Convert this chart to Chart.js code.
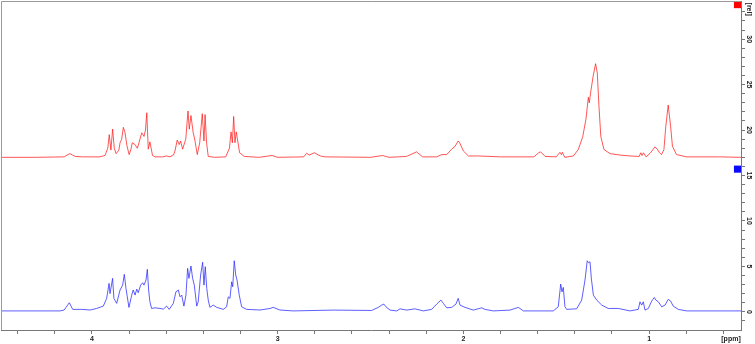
<!DOCTYPE html>
<html>
<head>
<meta charset="utf-8">
<script src="https://cdn.jsdelivr.net/npm/chart.js@4"></script>
<style>
  html, body { margin: 0; padding: 0; background: #fff; }
  canvas { display: block; }
</style>
</head>
<body>
<canvas id="nmr" width="755" height="344"></canvas>
<script>
'use strict'

// upper trace (red), shifted up by ~17
const redPpm = [4.49, 4.30, 4.15, 4.13, 4.118, 4.105, 4.09, 4.05, 3.96, 3.93, 3.915, 3.907, 3.898, 3.889, 3.88, 3.87,
  3.855, 3.849, 3.84, 3.831, 3.822, 3.812, 3.80, 3.79, 3.783, 3.768, 3.756, 3.747, 3.732, 3.72, 3.712, 3.705,
  3.697, 3.688, 3.674, 3.66, 3.62, 3.598, 3.58, 3.56, 3.553, 3.541, 3.53, 3.523, 3.512, 3.495, 3.483, 3.476,
  3.467, 3.455, 3.446, 3.433, 3.42, 3.406, 3.397, 3.391, 3.383, 3.374, 3.34, 3.28, 3.26, 3.251, 3.244, 3.237,
  3.23, 3.223, 3.205, 3.18, 3.10, 3.03, 3.00, 2.86, 2.844, 2.83, 2.803, 2.77, 2.745, 2.50, 2.435, 2.40,
  2.306, 2.252, 2.22, 2.144, 2.117, 2.09, 2.063, 2.045, 2.028, 2.02, 2.00, 1.973, 1.92, 1.80, 1.62, 1.595,
  1.584, 1.56, 1.50, 1.48, 1.472, 1.467, 1.454, 1.408, 1.381, 1.357, 1.34, 1.327, 1.322, 1.315, 1.301, 1.288,
  1.279, 1.27, 1.26, 1.243, 1.21, 1.157, 1.103, 1.053, 1.045, 1.038, 1.03, 1.016, 0.992, 0.968, 0.956, 0.945,
  0.933, 0.92, 0.91, 0.897, 0.884, 0.874, 0.852, 0.798, 0.62, 0.505];
const redRel = [17.0, 17.0, 17.05, 17.3, 17.4, 17.25, 17.1, 17.05, 17.05, 17.2, 18.0, 19.5, 17.8, 20.1, 18.0, 17.4,
  17.8, 18.6, 19.0, 20.3, 19.7, 18.3, 17.3, 17.9, 18.6, 18.4, 18.0, 18.6, 19.7, 19.3, 20.0, 21.9,
  17.9, 18.7, 17.2, 17.05, 17.05, 17.15, 17.05, 17.3, 17.7, 18.9, 18.4, 18.8, 17.9, 19.0, 22.1, 20.1,
  21.6, 19.7, 18.9, 17.3, 18.6, 21.8, 18.8, 21.7, 18.6, 17.1, 17.0, 17.05, 18.0, 19.8, 18.6, 21.5,
  18.6, 19.8, 17.5, 17.1, 17.0, 17.2, 17.0, 17.05, 17.45, 17.25, 17.5, 17.15, 17.05, 17.0, 17.2, 17.0,
  17.1, 17.6, 17.05, 17.05, 17.3, 17.3, 17.9, 18.2, 18.8, 18.6, 17.7, 17.15, 17.15, 17.05, 17.05, 17.5,
  17.6, 17.1, 17.05, 17.55, 17.3, 17.55, 17.0, 17.15, 17.86, 19.3, 21.2, 23.6, 23.0, 24.1, 25.95, 27.3,
  26.3, 22.65, 19.3, 17.86, 17.4, 17.25, 17.15, 17.1, 17.5, 17.2, 17.5, 17.05, 17.5, 18.15, 17.9, 17.55,
  17.3, 17.86, 20.4, 22.75, 20.4, 18.2, 17.3, 17.05, 17.05, 17.0];

// lower trace (blue)
const bluePpm = [4.49, 4.172, 4.15, 4.122, 4.104, 4.055, 4.01, 3.975, 3.939, 3.921, 3.908, 3.903, 3.889, 3.882, 3.867, 3.849,
  3.835, 3.826, 3.817, 3.801, 3.786, 3.778, 3.768, 3.759, 3.751, 3.738, 3.727, 3.72, 3.709, 3.702, 3.695, 3.688,
  3.679, 3.661, 3.634, 3.616, 3.598, 3.584, 3.562, 3.548, 3.535, 3.526, 3.517, 3.505, 3.494, 3.485, 3.478, 3.467,
  3.458, 3.449, 3.436, 3.428, 3.415, 3.404, 3.397, 3.39, 3.382, 3.374, 3.365, 3.347, 3.328, 3.293, 3.275, 3.266,
  3.257, 3.248, 3.242, 3.234, 3.226, 3.219, 3.207, 3.194, 3.167, 3.095, 3.041, 3.024, 2.988, 2.916, 2.70, 2.494,
  2.458, 2.44, 2.428, 2.417, 2.395, 2.359, 2.341, 2.305, 2.261, 2.216, 2.171, 2.144, 2.121, 2.108, 2.09, 2.063,
  2.04, 2.028, 2.018, 1.991, 1.947, 1.901, 1.884, 1.839, 1.749, 1.704, 1.677, 1.516, 1.489, 1.476, 1.469, 1.462,
  1.453, 1.444, 1.39, 1.363, 1.345, 1.333, 1.325, 1.318, 1.311, 1.30, 1.282, 1.255, 1.22, 1.166, 1.103, 1.058,
  1.049, 1.04, 1.031, 1.022, 1.004, 0.986, 0.972, 0.963, 0.95, 0.932, 0.914, 0.897, 0.884, 0.87, 0.843, 0.798,
  0.618, 0.505];
const blueRel = [0.1, 0.1, 0.2, 1.0, 0.27, 0.27, 0.2, 0.37, 0.63, 1.48, 3.13, 2.0, 3.68, 1.48, 0.93, 2.4,
  2.94, 4.12, 2.58, 0.49, 1.84, 2.4, 1.84, 2.5, 2.1, 2.94, 3.2, 2.94, 3.5, 4.67, 2.4, 1.1,
  0.37, 0.44, 0.37, 0.3, 0.63, 0.27, 0.93, 2.2, 2.4, 1.65, 1.84, 0.63, 1.84, 4.78, 3.68, 5.04,
  3.68, 2.94, 0.63, 1.1, 4.05, 5.45, 2.94, 4.96, 2.58, 1.29, 0.49, 0.74, 0.49, 0.27, 0.55, 1.65,
  1.48, 3.3, 2.76, 5.62, 4.05, 3.5, 1.84, 0.55, 0.27, 0.2, 0.37, 0.49, 0.2, 0.1, 0.19, 0.15,
  0.49, 0.74, 0.85, 0.55, 0.19, 0.1, 0.33, 0.19, 0.33, 0.1, 0.27, 0.85, 1.29, 0.93, 0.44, 0.49,
  0.85, 1.48, 0.74, 0.49, 0.19, 0.44, 0.27, 0.1, 0.19, 0.49, 0.1, 0.1, 0.55, 3.05, 2.2, 2.69,
  0.55, 0.27, 0.33, 1.29, 3.5, 5.62, 5.4, 5.5, 3.68, 1.84, 1.29, 0.74, 0.37, 0.37, 0.1, 0.27,
  1.1, 0.74, 1.1, 0.19, 0.37, 1.18, 1.58, 1.29, 1.1, 0.55, 0.74, 1.37, 1.18, 0.63, 0.27, 0.1,
  0.1, 0.1];

// coloured squares at the right edge (trace markers)
const markerPpm = [0.524, 0.524];
const markerRel = [33.8, 15.7];
const markerColors = ['#ff0000', '#0a0aff'];

// axis ticks
const xTickVals = [0.6, 0.8, 1, 1.2, 1.4, 1.6, 1.8, 2, 2.2, 2.4, 2.6, 2.8, 3, 3.2, 3.4, 3.6, 3.8, 4, 4.2, 4.4];
const xLabels = [1, 2, 3, 4];
const yTickVals = [-1, 0, 1, 2, 3, 4, 5, 6, 7, 8, 9, 10, 11, 12, 13, 14, 15, 16, 17, 18, 19, 20, 21, 22, 23, 24, 25,
  26, 27, 28, 29, 30, 31, 32, 33];
const yLabels = [0, 5, 10, 15, 20, 25, 30];

function toPoints(xs, ys) {
  let pts = [];
  for (let i = 0; i < xs.length; i++) {
    pts.push({x: xs[i], y: ys[i]});
  }
  return pts;
}

const fontSmall = {family: '"Liberation Sans", Arial, sans-serif', size: 7, weight: 'bold'};

// frame on top/left, plus the unit labels
const frame = {
  id: 'frame',
  afterDraw(chart) {
    const ctx = chart.ctx;
    const a = chart.chartArea;
    ctx.save();
    ctx.strokeStyle = '#9a9a9a';
    ctx.lineWidth = 1;
    ctx.beginPath();
    ctx.moveTo(a.left + 0.5, a.bottom);
    ctx.lineTo(a.left + 0.5, a.top + 0.5);
    ctx.lineTo(a.right, a.top + 0.5);
    ctx.stroke();

    ctx.fillStyle = '#222';
    ctx.font = 'bold 7px "Liberation Sans", Arial, sans-serif';
    ctx.textAlign = 'center';
    ctx.textBaseline = 'middle';
    ctx.fillText('[ppm]', a.right - 10, a.bottom + 9);
    ctx.translate(a.right + 8, chart.scales.y.getPixelForValue(33.3));
    ctx.rotate(Math.PI / 2);
    ctx.fillText('[rel]', 0, 0);
    ctx.restore();
  }
};

let ctx = document.getElementById('nmr');

new Chart(ctx, {
  type: 'line',
  data: {
    datasets: [{
      label: 'top',
      data: toPoints(redPpm, redRel),
      borderColor: 'rgba(255, 30, 30, 0.75)',
      borderWidth: 1,
      pointRadius: 0,
      tension: 0
    }, {
      label: 'bottom',
      data: toPoints(bluePpm, blueRel),
      borderColor: 'rgba(40, 40, 255, 0.75)',
      borderWidth: 1,
      pointRadius: 0,
      tension: 0
    }, {
      type: 'scatter',
      label: 'markers',
      data: toPoints(markerPpm, markerRel),
      pointStyle: 'rect',
      pointRadius: 5,
      pointBackgroundColor: markerColors,
      pointBorderWidth: 0,
      clip: false
    }]
  },
  options: {
    responsive: false,
    animation: false,
    layout: { autoPadding: false, padding: { left: 1, top: 1 } },
    plugins: {
      legend: { display: false },
      tooltip: { enabled: false }
    },
    scales: {
      x: {
        type: 'linear',
        reverse: true,
        min: 0.505,
        max: 4.49,
        afterBuildTicks: (scale) => { scale.ticks = xTickVals.map(v => ({value: v})); },
        afterFit: (scale) => {
          scale.height = 14;
          scale.paddingLeft = 0;
          scale.paddingRight = 0;
        },
        grid: { drawOnChartArea: false, tickLength: 4, color: '#777' },
        border: { color: '#777' },
        ticks: {
          autoSkip: false,
          maxRotation: 0,
          padding: 1,
          color: '#222',
          font: fontSmall,
          callback: (v) => xLabels.includes(v) ? String(v) : ''
        }
      },
      y: {
        position: 'right',
        min: -2,
        max: 34.2,
        afterBuildTicks: (scale) => { scale.ticks = yTickVals.map(v => ({value: v})); },
        afterFit: (scale) => {
          scale.width = 14;
          scale.paddingTop = 0;
          scale.paddingBottom = 0;
        },
        grid: { drawOnChartArea: false, tickLength: 4, color: '#777' },
        border: { color: '#777' },
        ticks: {
          autoSkip: false,
          minRotation: -90,
          maxRotation: -90,
          crossAlign: 'center',
          padding: 0,
          color: '#222',
          font: fontSmall,
          callback: (v) => yLabels.includes(v) ? String(v) : ''
        }
      }
    }
  },
  plugins: [frame]
});
</script>
</body>
</html>
